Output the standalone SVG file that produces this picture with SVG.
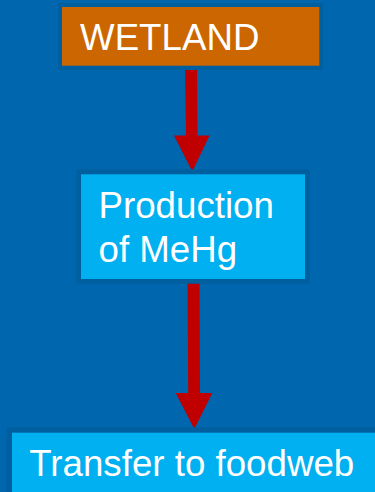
<svg xmlns="http://www.w3.org/2000/svg" width="375" height="492" viewBox="0 0 375 492">
<style>
.halo{fill:#005f9f}
.lbl{font-family:"Liberation Sans",Arial,sans-serif;font-size:36.7px;fill:#ffffff}
.arrow{fill:#c00000}
</style>
<rect width="375" height="492" fill="#0066ae"/>
<g id="connectors">
<polygon class="arrow" points="185,69 197,69 197.5,135.5 209.5,135.5 192.3,171.5 174,135.5 186,135.5"/>
<polygon class="arrow" points="187.5,282 199.5,282 200,393 212.3,393 194.3,429 175.7,393 188.2,393"/>
</g>
<g id="wetland">
<rect class="halo" x="58" y="3" width="265" height="67" rx="2"/>
<rect x="62" y="7" width="257.3" height="58.7" fill="#cc6600"/>
<text class="lbl" x="80" y="50">WETLAND</text>
</g>
<g id="production">
<rect class="halo" x="76.3" y="169.3" width="233.4" height="114.4" rx="2"/>
<rect x="81" y="174.3" width="224" height="104.7" fill="#00b0f0"/>
<text class="lbl" x="98.5" y="218.3">Production</text>
<text class="lbl" x="98.5" y="261.7">of MeHg</text>
</g>
<g id="transfer">
<rect class="halo" x="6.7" y="427.3" width="380" height="80" rx="2"/>
<rect x="12" y="432.7" width="370" height="70" fill="#00b0f0"/>
<text class="lbl" x="29.3" y="475.7">Transfer to foodweb</text>
</g>
</svg>
